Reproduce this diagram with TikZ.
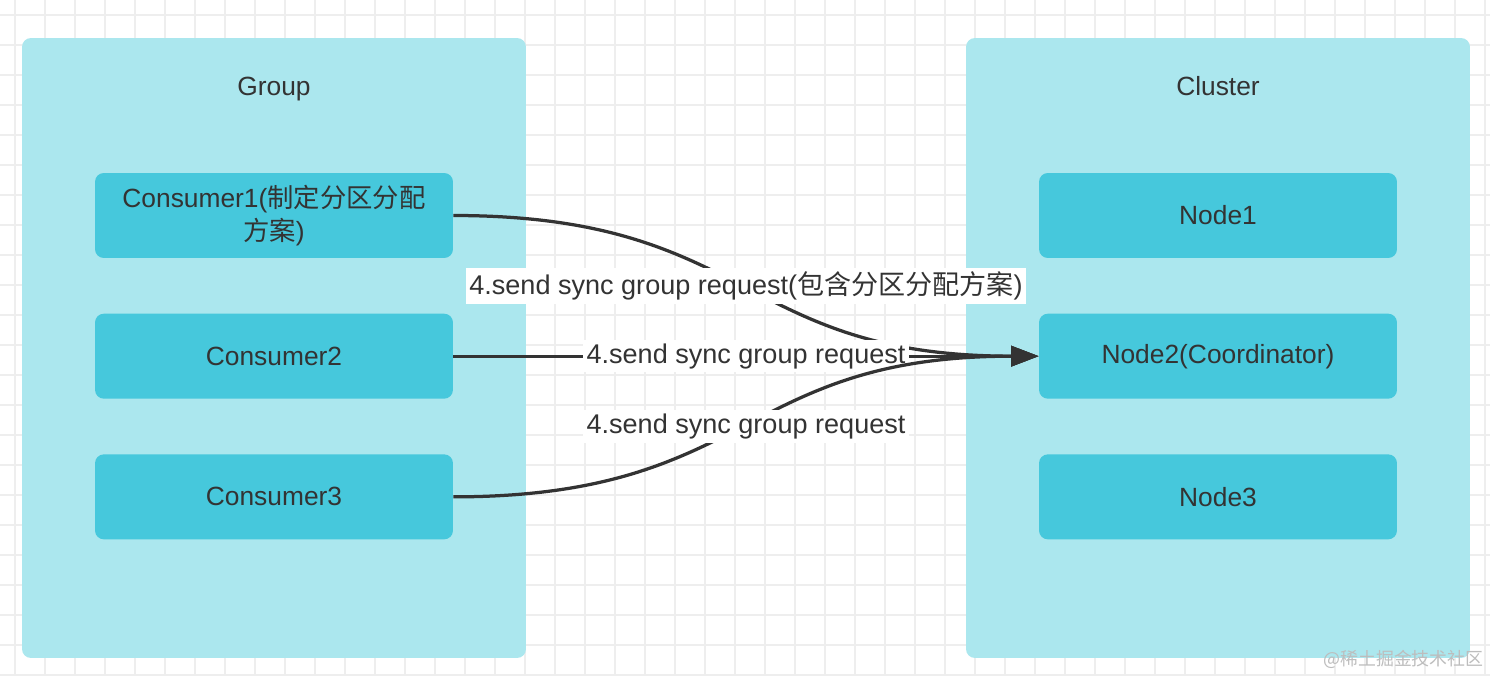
\documentclass[tikz,border=0pt]{standalone}
\usepackage{fontspec}
\setmainfont{Liberation Sans}
\newfontfamily\cjk{Noto Sans CJK SC}
\usepackage{tikz}
\usetikzlibrary{positioning, arrows.meta}
\definecolor{panelbg}{HTML}{ABE7EE}
\definecolor{tile}{HTML}{46C8DC}
\definecolor{ink}{HTML}{333333}
\definecolor{gridline}{HTML}{EEEEEE}
\definecolor{mark}{HTML}{BDBDBD}

\begin{document}
\begin{tikzpicture}[
  x=0.02cm, y=-0.02cm,
  node distance=1.1cm,
  panel/.style={rectangle, rounded corners=5pt, fill=panelbg,
                minimum width=10.08cm, minimum height=12.4cm, inner sep=0pt},
  box/.style={rectangle, rounded corners=5pt, fill=tile, text=ink,
              minimum width=7.16cm, minimum height=1.7cm, align=center,
              font=\fontsize{15}{18.7}\selectfont, inner sep=0pt},
  title/.style={text=ink, font=\fontsize{15}{18}\selectfont, anchor=base},
  lbl/.style={fill=white, text=ink, inner sep=2pt,
              font=\fontsize{15.4}{18}\selectfont},
  arr/.style={-{Triangle[length=0.55cm, width=0.4cm]}, line width=0.065cm, ink},
]

%% Background and grid
\fill[white] (0,0) rectangle (1490,676);
\useasboundingbox (0,0) rectangle (1490,676);
\foreach \x in {15,45,...,1485} \draw[gridline, line width=0.04cm] (\x,0) -- (\x,676);
\foreach \y in {15,45,...,675} \draw[gridline, line width=0.04cm] (0,\y) -- (1490,\y);

%% Panels
\node[panel] (group)   at (274,348)  {};
\node[panel] (cluster) at (1218,348) {};
\node[title] (grouplbl)   at (274,95)  {Group};
\node[title] (clusterlbl) at (1218,95) {Cluster};

%% Consumers
\node[box] (c1) at (274,215.5) {Consumer1({\cjk 制定分区分配}\\{\cjk 方案})};
\node[box, below=of c1] (c2) {Consumer2};
\node[box, below=of c2] (c3) {Consumer3};

%% Nodes
\node[box] (n1) at (1218,215.5) {Node1};
\node[box, below=of n1] (n2) {Node2(Coordinator)};
\node[box, below=of n2] (n3) {Node3};

%% Sync group requests
\draw[arr] (c1.east) .. controls +(300,0) and +(-300,0) .. (n2.west)
  node[lbl, midway] (r1) {4.send sync group request({\cjk 包含分区分配方案})};
\draw[arr] (c2.east) -- (n2.west)
  node[lbl, midway] (r2) {4.send sync group request};
\draw[arr] (c3.east) .. controls +(300,0) and +(-300,0) .. (n2.west)
  node[lbl, midway] (r3) {4.send sync group request};

%% Watermark
\node[anchor=east, text=mark, inner sep=0pt, font=\cjk\fontsize{10.2}{12}\selectfont]
  (wm) at (1484,659) {@稀土掘金技术社区};

\end{tikzpicture}
\end{document}
